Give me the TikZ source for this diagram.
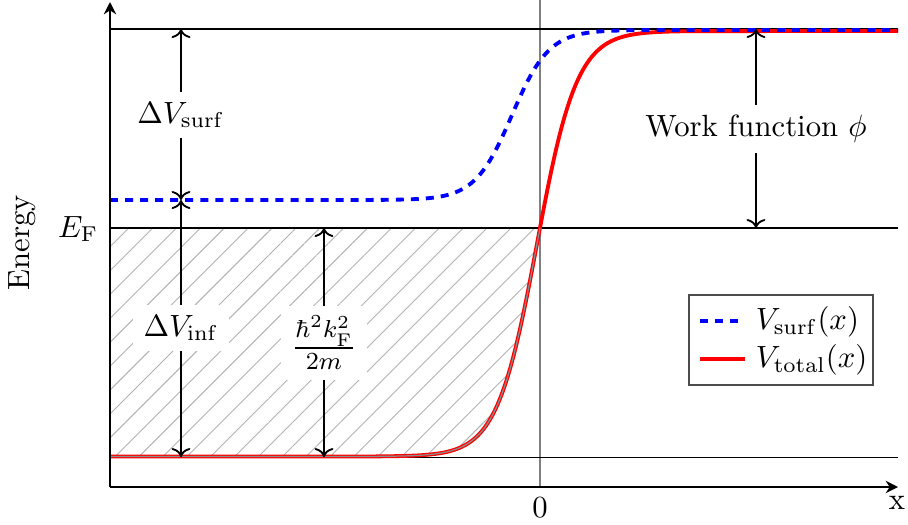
\documentclass[tikz,border=0pt]{standalone}
\usetikzlibrary{arrows.meta,patterns.meta}
\begin{document}
\begin{tikzpicture}[x=0.3257pt,y=-0.3257pt,
  level/.style={black,line width=0.6pt},
  dimarrow/.style={<->,line width=0.6pt},
  lab/.style={fill=white,inner sep=3.3pt},
  vsurf/.style={blue,line width=1.25pt,dash pattern=on 2.6pt off 2.3pt},
  vtot/.style={red,line width=1.25pt},
  axisline/.style={line width=0.6pt,-{Stealth[length=4pt,width=4pt]}},
  hatch/.style={pattern={Lines[angle=45,distance=5.5pt,line width=0.3pt]},pattern color=black!30}]
\useasboundingbox (0,0) rectangle (908,524);
% hatched occupied band
\fill[hatch] (110,457) -- (378,457)
  -- plot[domain=378:540,samples=60] (\x,{456.5-425.5/(1+exp(-(\x-537)/20))})
  -- (110,228) -- cycle;
% reference lines
\draw[gray,line width=0.5pt] (540,0) -- (540,487);
\draw[level] (110,29) -- (898,29);
\draw[level] (110,228) -- (898,228);
\draw[level] (110,457.5) -- (898,457.5);
% curves
\draw[vtot] (110,456.5) -- (378,456.5)
  -- plot[domain=378:700,samples=120] (\x,{456.5-425.5/(1+exp(-(\x-537)/20))})
  -- (898,31);
\draw[black!45,line width=0.4pt] (110,456.5) -- (378,456.5)
  -- plot[domain=378:540,samples=60] (\x,{456.5-425.5/(1+exp(-(\x-537)/20))});
\draw[vsurf] (110,200) -- (364,200)
  -- plot[domain=364:660,samples=120] (\x,{200-170/(1+exp(-(\x-512)/18.5))})
  -- (898,30);
% axes
\coordinate (origin) at (110,487);
\coordinate (ytop) at (110,2);
\coordinate (xend) at (898,487);
\draw[axisline] (origin) -- (ytop);
\draw[axisline] (origin) -- (xend);
\node (xlab) at (897,503) {x};
\node (zero) at (540,508) {0};
\node[rotate=90] (ylab) at (22,243) {Energy};
\node[anchor=east,inner sep=3pt] (ef) at (108,229) {$E_{\mathrm{F}}$};
% dimension arrows
\coordinate (s1) at (181,29);
\coordinate (s2) at (181,200);
\coordinate (s3) at (181,457);
\coordinate (h1) at (324,228);
\coordinate (h2) at (324,457);
\coordinate (w1) at (756,29);
\coordinate (w2) at (756,228);
\draw[dimarrow] (s1) -- (s2);
\draw[dimarrow] (s2) -- (s3);
\draw[dimarrow] (h1) -- (h2);
\draw[dimarrow] (w1) -- (w2);
\node[lab] (dvs) at (181,115) {$\Delta V_{\mathrm{surf}}$};
\node[lab] (dvi) at (181,328) {$\Delta V_{\mathrm{inf}}$};
\node[lab,font=\large] (ekin) at (324,343) {$\frac{\hbar^2 k_{\mathrm{F}}^2}{2m}$};
\node[lab] (wf) at (756,129) {Work function $\phi$};
% legend
\draw[black!70,line width=0.5pt,fill=white] (689,295) rectangle (873,385);
\coordinate (ls1) at (700,321);
\coordinate (ls2) at (741,321);
\coordinate (lt1) at (700,359);
\coordinate (lt2) at (745,359);
\draw[vsurf] (ls1) -- (ls2);
\draw[vtot] (lt1) -- (lt2);
\node[anchor=west] (leg1) at (745,322) {$V_{\mathrm{surf}}(x)$};
\node[anchor=west] (leg2) at (745,360) {$V_{\mathrm{total}}(x)$};
\end{tikzpicture}
\end{document}
